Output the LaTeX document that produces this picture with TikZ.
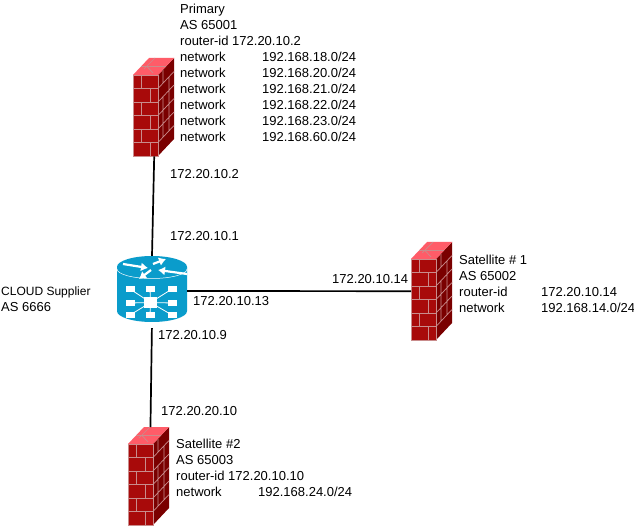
\documentclass[tikz,border=0pt]{standalone}
\usepackage{fontspec}
\usetikzlibrary{arrows.meta}
\setmainfont{Liberation Sans}
\definecolor{fwfront}{HTML}{A80A0A}
\definecolor{fwside}{HTML}{7A0000}
\definecolor{fwtop}{HTML}{FF5C68}
\definecolor{fwline}{HTML}{C98C8C}
\definecolor{rtblue}{HTML}{0A9CCB}
\newcommand{\netline}[3]{\makebox[#1pt][l]{#2}#3}
\newcommand{\firewall}[3]{%
  \node[inner sep=0pt,minimum width=25pt,minimum height=81pt,anchor=north west] (#1) at (#2,#3) {};
  \begin{scope}[shift={(#2,#3)}]
    \fill[fwfront] (0,0) rectangle (25,81);
    \fill[fwside] (25,0) -- (41,-17) -- (41,64) -- (25,81) -- cycle;
    \fill[fwtop] (0,0) -- (16,-17) -- (41,-17) -- (25,0) -- cycle;
    \draw[fwline,line width=0.7pt]
      (0,0) rectangle (25,81)
      (0,13.5) -- (25,13.5) (0,27) -- (25,27) (0,40.5) -- (25,40.5) (0,54) -- (25,54) (0,67.5) -- (25,67.5)
      (8,0) -- (8,13.5) (17,13.5) -- (17,27) (8,27) -- (8,40.5) (17,40.5) -- (17,54) (8,54) -- (8,67.5) (17,67.5) -- (17,81);
    \draw[fwline,line width=0.7pt]
      (25,13.5) -- (41,-3.5) (25,27) -- (41,10) (25,40.5) -- (41,23.5) (25,54) -- (41,37) (25,67.5) -- (41,50.5)
      (30,-5) -- (30,8.2) (36,2) -- (36,16) (30,21.7) -- (30,35) (36,15) -- (36,29) (30,35.2) -- (30,48.7) (36,29) -- (36,43) (30,48.7) -- (30,62) (36,43) -- (36,56);
    \draw[fwline,line width=0.7pt]
      (8,-8.5) -- (33,-8.5) (11,-6) -- (22,-17) (14,-8.5) -- (20,-2);
  \end{scope}}
\tikzset{
  label/.style={inner sep=0pt,anchor=west,font=\fontsize{13pt}{16pt}\selectfont},
  info/.style={inner sep=0pt,anchor=north west,align=left,font=\fontsize{13pt}{16pt}\selectfont},
  link/.style={draw=black,line width=1.7pt},
  rtarrow/.style={draw=white,line width=2.2pt,-{Latex[length=7pt,width=9pt]}},
  rtspoke/.style={draw=white,line width=0.8pt}
}
\begin{document}
\begin{tikzpicture}[x=1pt,y=-1pt]
\useasboundingbox (0,0) rectangle (634,526);
\fill[white] (0,0) rectangle (634,526);
% router
\node[inner sep=0pt,minimum width=70pt,minimum height=66pt] (rt) at (152,289) {};
\fill[rtblue] (117,267) -- (117,311) arc[start angle=180,end angle=0,x radius=35,y radius=11] -- (187,267) -- cycle;
\fill[rtblue] (152,267) ellipse[x radius=35,y radius=11];
\draw[white,line width=0.5pt] (117,269) arc[start angle=180,end angle=0,x radius=35,y radius=9.5];
\draw[rtarrow] (123,264) -- (148,268);
\draw[rtarrow] (153,264) -- (166,259);
\draw[rtarrow] (187,274) -- (158,270);
\draw[rtarrow] (151,270) -- (139,279);
\foreach \px/\py in {130/289,150/289,172/289,130/303,172/303,130/315,150/315,172/315}{
  \draw[rtspoke] (150.5,302.5) -- (\px,\py);
  \fill[white] (\px-4.5,\py-2.8) rectangle (\px+4.5,\py+2.8);
}
\fill[white] (144,297) rectangle (157,308);
% firewalls
\firewall{fwa}{133}{75}
\firewall{fwb}{411}{259}
\firewall{fwc}{128}{444}
% connectors
\draw[link] ([xshift=8.5pt]fwa.south) -- (rt.north);
\draw[link] ([yshift=-2pt]rt.east) -- ([yshift=8.5pt]fwb.west);
\draw[link,shorten <=6pt,shorten >=17pt] (rt.south) -- ([xshift=9.5pt]fwc.north);
% labels
\node[label] (a) at (170,174.5) {172.20.10.2};
\node[label] (b) at (170,236.5) {172.20.10.1};
\node[label] (c) at (332,279.5) {172.20.10.14};
\node[label] (d) at (193,301.5) {172.20.10.13};
\node[label] (e) at (158,335.5) {172.20.10.9};
\node[label] (f) at (161,411.5) {172.20.20.10};
\node[info] (cloud) at (1,287) {\fontsize{12pt}{16pt}\selectfont CLOUD Supplier\\AS 6666};
\node[info] (prim) at (180,4) {Primary\\AS 65001\\router-id 172.20.10.2\\
\netline{82}{network}{192.168.18.0/24}\\
\netline{82}{network}{192.168.20.0/24}\\
\netline{82}{network}{192.168.21.0/24}\\
\netline{82}{network}{192.168.22.0/24}\\
\netline{82}{network}{192.168.23.0/24}\\
\netline{82}{network}{192.168.60.0/24}};
\node[info] (sat1) at (459,255) {Satellite \# 1\\AS 65002\\
\netline{82}{router-id}{172.20.10.14}\\
\netline{82}{network}{192.168.14.0/24}};
\node[info] (sat2) at (176,439) {Satellite \#2\\AS 65003\\router-id 172.20.10.10\\
\netline{82}{network}{192.168.24.0/24}};
\end{tikzpicture}
\end{document}
